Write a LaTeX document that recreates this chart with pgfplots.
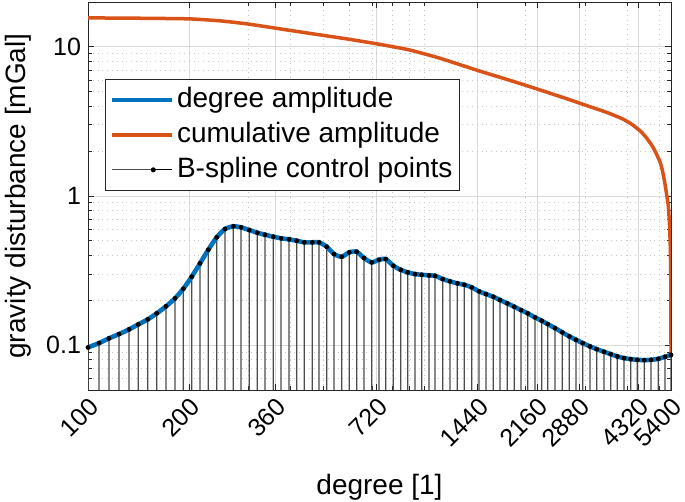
\documentclass[border=0pt]{standalone}
\usepackage{fontspec}
\setmainfont{Liberation Sans}
\usepackage{pgfplots}
\usepackage{pgfplotstable}
\pgfplotsset{compat=1.18}
\definecolor{mblue}{HTML}{0072BD}
\definecolor{morange}{HTML}{D95319}
\definecolor{axgray}{HTML}{262626}

% B-spline control points (degree, amplitude in mGal)
\pgfplotstableread{
n v
100 0.0965
107.8 0.1031
115.4 0.1109
123.6 0.1185
132.4 0.1274
141.1 0.1377
150.5 0.1488
160.0 0.1632
170.5 0.1819
181.4 0.2058
192.0 0.2387
203.3 0.2873
215.2 0.3534
227.8 0.4361
241.2 0.5283
255.3 0.6005
270.3 0.6260
284.9 0.6164
301.5 0.5910
318.5 0.5672
335.7 0.5499
355.3 0.5332
374.6 0.5202
395.6 0.5123
417.0 0.5012
439.3 0.4890
464.0 0.4890
485.8 0.4890
512.1 0.4568
538.3 0.4080
567.4 0.3914
597.7 0.4189
628.8 0.4228
661.0 0.3836
696.8 0.3589
732.4 0.3737
766.8 0.3777
807.7 0.3405
849.6 0.3200
891.3 0.3075
936.9 0.2995
980.9 0.2963
1031.1 0.2935
1074.4 0.2917
1132.5 0.2773
1190.5 0.2676
1251.5 0.2595
1312.9 0.2539
1381.1 0.2439
1451.8 0.2293
1523.0 0.2199
1601.1 0.2110
1676.2 0.2005
1762.0 0.1905
1848.5 0.1807
1935.1 0.1717
2026.0 0.1632
2129.6 0.1534
2229.4 0.1456
2322.9 0.1383
2442.0 0.1300
2566.9 0.1217
2692.9 0.1144
2819.1 0.1085
2951.5 0.1031
3102.5 0.0980
3248.2 0.0940
3414.5 0.0902
3574.8 0.0870
3739.8 0.0840
3915.4 0.0818
4098.9 0.0805
4288.4 0.0797
4498.9 0.0793
4709.7 0.0797
4951.2 0.0809
5183.3 0.0835
5400 0.0860
}\ctrl

% cumulative amplitude
\pgfplotstableread{
n v
100 15.65
150 15.55
201 15.41
247 14.95
297 14.27
372 13.21
466 12.23
588 11.31
737 10.40
900 9.55
1100 8.45
1445 6.93
1800 5.95
2154 5.23
2600 4.55
3033 4.04
3500 3.62
3888 3.28
4150 3.00
4400 2.70
4600 2.40
4800 2.08
5010 1.69
5100 1.46
5183 1.20
5260 0.97
5300 0.86
5340 0.67
5370 0.48
5385 0.35
5393 0.25
5398 0.15
5400 0.086
}\cumul

\begin{document}
\begin{tikzpicture}
\begin{axis}[
  scale only axis,
  width=291.5pt, height=194pt,
  xmode=log, ymode=log,
  xmin=100, xmax=5400, ymin=0.05, ymax=20,
  log origin y=infty,
  xtick={100,200,360,720,1440,2160,2880,4320,5400},
  xticklabels={100,200,360,720,1440,2160,2880,4320,5400},
  minor xtick={300,400,500,600,700,800,900,1000,2000,3000,4000,5000},
  ytick={0.1,1,10}, yticklabels={0.1,1,10},
  minor ytick={0.06,0.07,0.08,0.09,0.2,0.3,0.4,0.5,0.6,0.7,0.8,0.9,2,3,4,5,6,7,8,9},
  grid=both,
  major grid style={draw=black!15, line width=0.4pt},
  minor grid style={draw=black!22, dotted, line width=0.4pt},
  tick align=inside,
  major tick length=3pt, minor tick length=1.8pt,
  tick style={axgray, line width=0.4pt},
  axis line style={axgray, line width=0.5pt},
  tick label style={font=\fontsize{12.5}{14}\selectfont, text=black},
  xticklabel style={inner sep=0pt, yshift=-3pt, rotate=45, anchor=north east},
  label style={font=\fontsize{14}{16}\selectfont, inner sep=0pt},
  xlabel={degree [1]},
  ylabel={gravity disturbance [mGal]},
  xlabel style={at={(axis description cs:0.5,-0.25)}, anchor=center},
  ylabel style={at={(axis description cs:-0.1201,0.5)}, anchor=center},
  legend cell align=left,
  legend image code/.code={\draw[#1] (0pt,0pt) -- (30pt,0pt);},
  legend style={at={(0.029,0.802)}, anchor=north west, draw=axgray,
    line width=0.5pt, fill=white, inner xsep=2.3pt, inner ysep=1.5pt,
    font=\fontsize{14}{16}\selectfont, row sep=0pt,
    nodes={inner xsep=1.2pt, inner ysep=2pt, text height=10.5pt, text depth=3pt}},
]
\addplot[ybar, bar shift=0pt, bar width=0.6pt, fill=black!70, draw=none, forget plot] table {\ctrl};
\addplot[mblue, line width=2.3pt, smooth, tension=0.4] table {\ctrl};
\addlegendentry{degree amplitude}
\addplot[morange, line width=1.75pt, smooth, tension=0.3] table {\cumul};
\addlegendentry{cumulative amplitude}
\addplot[only marks, mark=*, mark size=1pt, black,
  legend image code/.code={\path (0pt,0pt) -- (30pt,0pt);
    \draw[black!70, line width=0.6pt] (0pt,0pt) -- (20.5pt,0pt);
    \fill[black] (20.5pt,0pt) circle (1pt);}]
  table {\ctrl};
\addlegendentry{B-spline control points}
\end{axis}
\pgfresetboundingbox
\path (-44pt,-56pt) rectangle (298.5pt,195pt);
\end{tikzpicture}
\end{document}
